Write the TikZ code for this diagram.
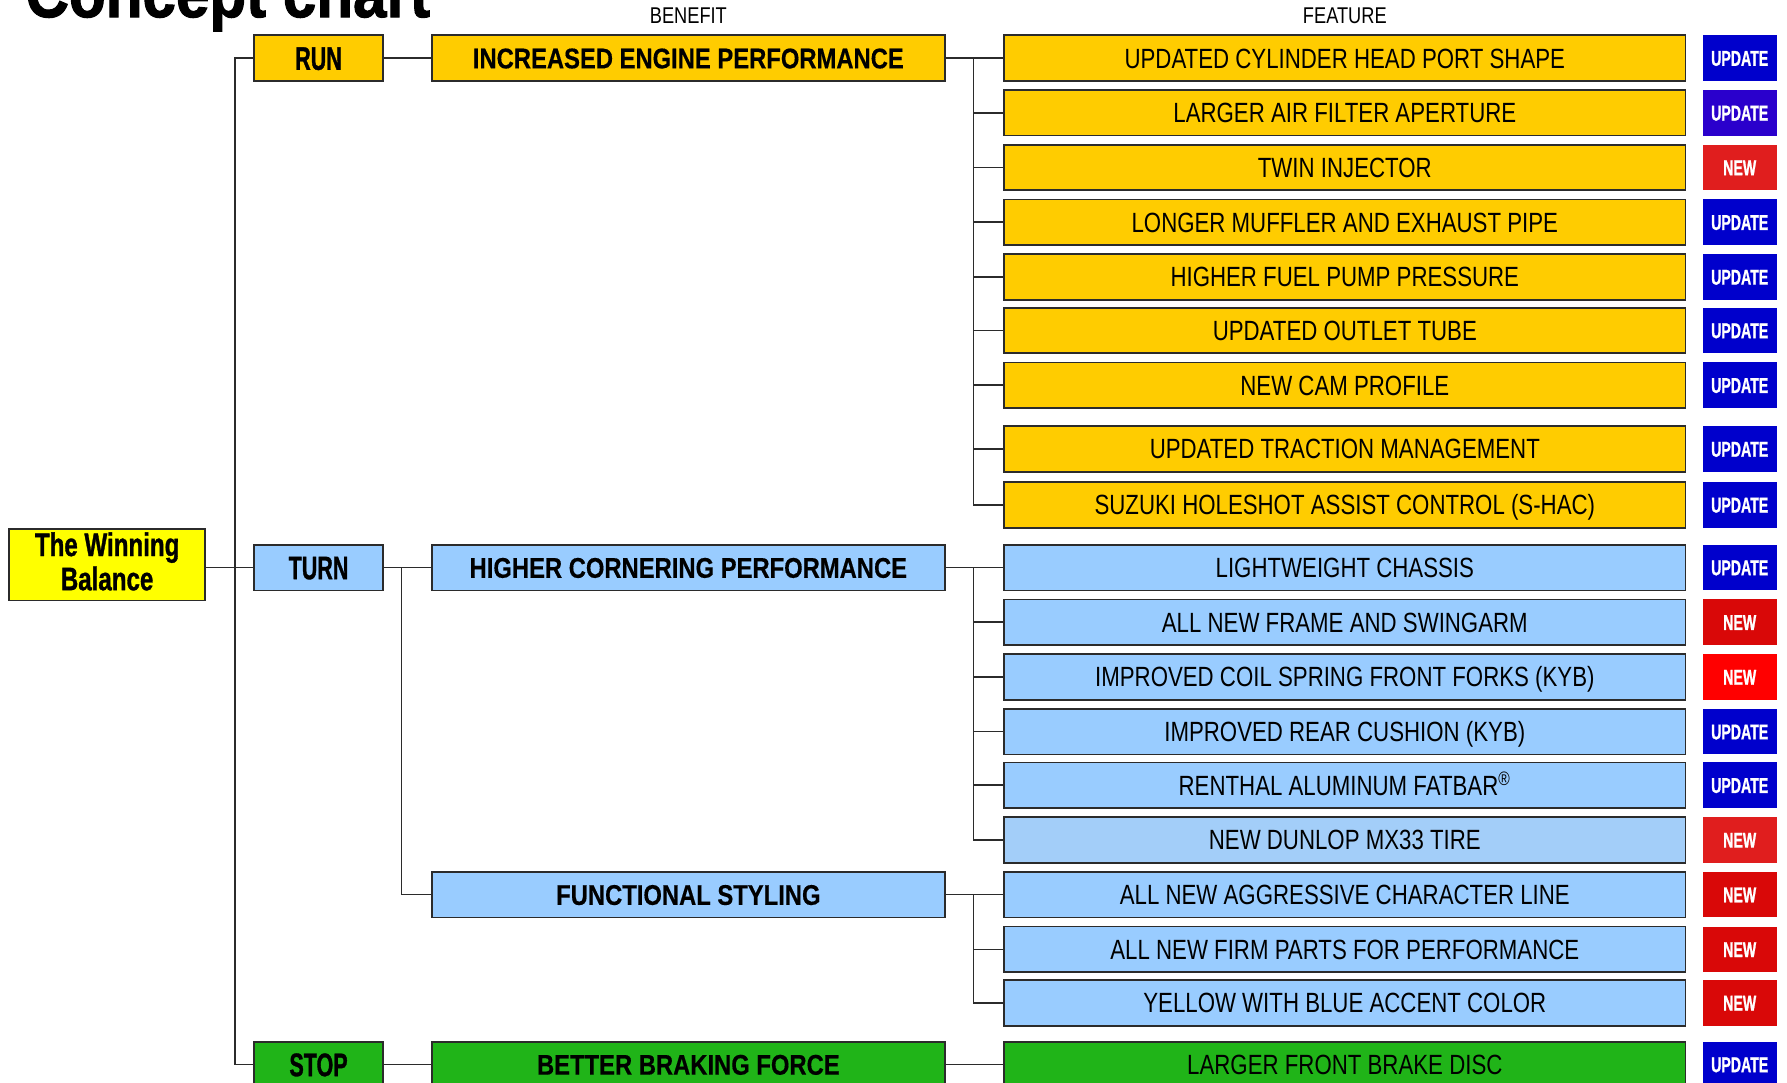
\documentclass[tikz,border=0pt]{standalone}
\usepackage{fontspec}
\setmainfont{Liberation Sans}
\newfontfamily\featfont{Liberation Sans}[FakeStretch=0.8]
\newfontfamily\benfont{Liberation Sans}[FakeStretch=0.835,FakeBold=0.4]
\newfontfamily\heavyfont{Liberation Sans}[FakeStretch=0.66,FakeBold=1]
\newfontfamily\rootfont{Liberation Sans}[FakeStretch=0.74,FakeBold=1]
\newfontfamily\titlefont{Liberation Sans}[FakeStretch=0.88,FakeBold=1.5]
\definecolor{runc}{HTML}{FFCC00}
\definecolor{turnc}{HTML}{99CCFF}
\definecolor{turnlc}{HTML}{A3CEF9}
\definecolor{stopc}{HTML}{20B418}
\definecolor{rootc}{HTML}{FFFF00}
\definecolor{updc}{HTML}{0000CC}
\definecolor{updbc}{HTML}{2A00CC}
\definecolor{newc}{HTML}{E01E1E}
\definecolor{newdc}{HTML}{D90808}
\definecolor{newbc}{HTML}{FF0000}
\definecolor{linec}{HTML}{2B2B2B}
\begin{document}
\begin{tikzpicture}[x=0.5pt,y=-0.5pt,
  box/.style={draw=linec,line width=0.75pt,inner sep=0pt,minimum height=20pt},
  feat/.style={box,minimum width=299pt,text height=8.73pt,text depth=0pt,
    font=\featfont\fontsize{12.2pt}{14pt}\selectfont},
  tagbox/.style={inner sep=0pt,minimum width=32.5pt,minimum height=20pt,text=white,
    text height=6.73pt,text depth=0pt,font=\heavyfont\bfseries\fontsize{9.4pt}{10pt}\selectfont},
  upd/.style={tagbox,fill=updc},
  nw/.style={tagbox,fill=newc},
  lvlone/.style={box,minimum width=56.5pt,text height=10.24pt,text depth=0pt,
    font=\heavyfont\bfseries\fontsize{14.3pt}{15pt}\selectfont},
  lvltwo/.style={box,minimum width=225pt,text height=8.95pt,text depth=0pt,
    font=\benfont\bfseries\fontsize{12.5pt}{14pt}\selectfont},
  conn/.style={draw=linec,line width=0.7pt},
  hdr/.style={inner sep=0pt,text height=7pt,text depth=0pt,
    font=\featfont\fontsize{10pt}{12pt}\selectfont}
]
\path[use as bounding box,clip] (0,0) rectangle (1568,950);

% title and headers
\node[anchor=base west,inner sep=0pt,font=\titlefont\bfseries\fontsize{30pt}{30pt}\selectfont] (title) at (22,15) {Concept chart};
\node[hdr] (hben) at (604,14) {BENEFIT};
\node[hdr] (hfeat) at (1180,14) {FEATURE};

% root
\node[box,fill=rootc,minimum width=86pt,minimum height=31.5pt,align=center,text depth=3pt,
  font=\rootfont\bfseries\fontsize{14.3pt}{15pt}\selectfont] (root) at (94,495.5) {The Winning\\Balance};

% level 1
\node[lvlone,fill=runc] (run) at (279.5,51) {RUN};
\node[lvlone,fill=turnc] (turn) at (279.5,498) {TURN};
\node[lvlone,fill=stopc] (stop) at (279.5,934) {STOP};

% level 2
\node[lvltwo,fill=runc] (bA) at (604,51) {INCREASED ENGINE PERFORMANCE};
\node[lvltwo,fill=turnc] (bB) at (604,498) {HIGHER CORNERING PERFORMANCE};
\node[lvltwo,fill=turnc] (bC) at (604,785) {FUNCTIONAL STYLING};
\node[lvltwo,fill=stopc] (bD) at (604,934) {BETTER BRAKING FORCE};

% features
\node[feat,fill=runc] (f1) at (1180,51) {UPDATED CYLINDER HEAD PORT SHAPE};
\node[feat,fill=runc] (f2) at (1180,99) {LARGER AIR FILTER APERTURE};
\node[feat,fill=runc] (f3) at (1180,147) {TWIN INJECTOR};
\node[feat,fill=runc] (f4) at (1180,195) {LONGER MUFFLER AND EXHAUST PIPE};
\node[feat,fill=runc] (f5) at (1180,243) {HIGHER FUEL PUMP PRESSURE};
\node[feat,fill=runc] (f6) at (1180,290) {UPDATED OUTLET TUBE};
\node[feat,fill=runc] (f7) at (1180,338) {NEW CAM PROFILE};
\node[feat,fill=runc] (f8) at (1180,394) {UPDATED TRACTION MANAGEMENT};
\node[feat,fill=runc] (f9) at (1180,443) {SUZUKI HOLESHOT ASSIST CONTROL (S-HAC)};
\node[feat,fill=turnc] (f10) at (1180,498) {LIGHTWEIGHT CHASSIS};
\node[feat,fill=turnc] (f11) at (1180,546) {ALL NEW FRAME AND SWINGARM};
\node[feat,fill=turnc] (f12) at (1180,594) {IMPROVED COIL SPRING FRONT FORKS (KYB)};
\node[feat,fill=turnc] (f13) at (1180,642) {IMPROVED REAR CUSHION (KYB)};
\node[feat,fill=turnc] (f14) at (1180,689) {RENTHAL ALUMINUM FATBAR\textsuperscript{®}};
\node[feat,fill=turnlc] (f15) at (1180,737) {NEW DUNLOP MX33 TIRE};
\node[feat,fill=turnc] (f16) at (1180,785) {ALL NEW AGGRESSIVE CHARACTER LINE};
\node[feat,fill=turnc] (f17) at (1180,833) {ALL NEW FIRM PARTS FOR PERFORMANCE};
\node[feat,fill=turnc] (f18) at (1180,880) {YELLOW WITH BLUE ACCENT COLOR};
\node[feat,fill=stopc] (f19) at (1180,934) {LARGER FRONT BRAKE DISC};

% tags
\node[upd] (t1) at (1526.5,51) {UPDATE};
\node[upd,fill=updbc] (t2) at (1526.5,99) {UPDATE};
\node[nw] (t3) at (1526.5,147) {NEW};
\node[upd] (t4) at (1526.5,195) {UPDATE};
\node[upd] (t5) at (1526.5,243) {UPDATE};
\node[upd] (t6) at (1526.5,290) {UPDATE};
\node[upd] (t7) at (1526.5,338) {UPDATE};
\node[upd] (t8) at (1526.5,394) {UPDATE};
\node[upd] (t9) at (1526.5,443) {UPDATE};
\node[upd] (t10) at (1526.5,498) {UPDATE};
\node[nw,fill=newdc] (t11) at (1526.5,546) {NEW};
\node[nw,fill=newbc] (t12) at (1526.5,594) {NEW};
\node[upd] (t13) at (1526.5,642) {UPDATE};
\node[upd] (t14) at (1526.5,689) {UPDATE};
\node[nw] (t15) at (1526.5,737) {NEW};
\node[nw,fill=newdc] (t16) at (1526.5,785) {NEW};
\node[nw,fill=newdc] (t17) at (1526.5,833) {NEW};
\node[nw,fill=newdc] (t18) at (1526.5,880) {NEW};
\node[upd] (t19) at (1526.5,934) {UPDATE};

% connectors: root trunk
\draw[conn] (root.east |- turn.west) -- (turn.west);
\draw[conn] (run.west) -- ++(-16,0) |- (stop.west);
% level1 -> level2
\draw[conn] (run.east) -- (bA.west);
\draw[conn] (turn.east) -- (bB.west);
\draw[conn] (bC.west) -- ++(-26,0) |- (bB.west);
\draw[conn] (stop.east) -- (bD.west);
% level2 -> features
\draw[conn] (bA.east) -- (f1.west);
\foreach \i in {2,...,9} \draw[conn] (f\i.west) -- ++(-26,0) |- (bA.east);
\draw[conn] (bB.east) -- (f10.west);
\foreach \i in {11,...,15} \draw[conn] (f\i.west) -- ++(-26,0) |- (bB.east);
\draw[conn] (bC.east) -- (f16.west);
\foreach \i in {17,18} \draw[conn] (f\i.west) -- ++(-26,0) |- (bC.east);
\draw[conn] (bD.east) -- (f19.west);
\end{tikzpicture}
\end{document}
